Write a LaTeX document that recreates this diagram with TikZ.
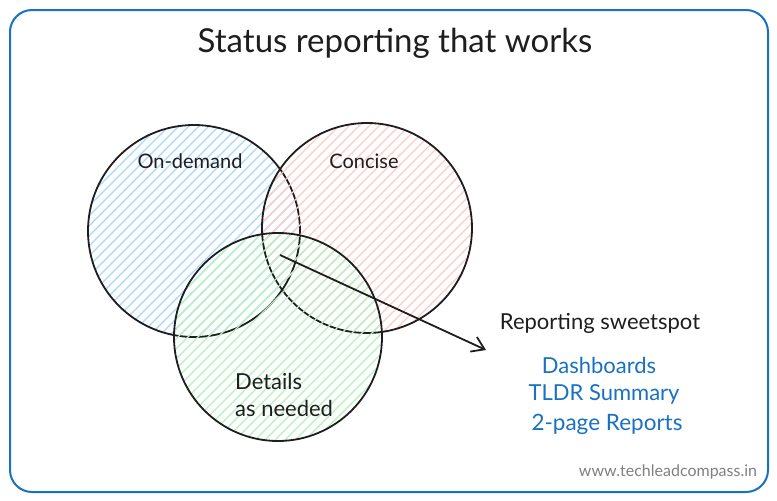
\documentclass[tikz,border=0pt]{standalone}
\usepackage{fontspec}
\setmainfont{Lato}
\usetikzlibrary{arrows.meta}
\definecolor{exblue}{HTML}{1971C2}
\definecolor{hblue}{HTML}{A5D8FF}
\definecolor{hred}{HTML}{FFC9C9}
\definecolor{hgreen}{HTML}{B2F2BB}
\definecolor{ink}{HTML}{1E1E1E}
\tikzset{
  hatch/.style={path picture={
    \foreach \d in {-160,-150,...,160}{
      \draw[#1,line width=1.2pt] ([xshift=\d pt-150pt,yshift=-150pt]path picture bounding box.center) -- ([xshift=\d pt+150pt,yshift=150pt]path picture bounding box.center);
    }}},
  venn/.style={circle,draw=ink,line width=1.8pt,inner sep=0pt,minimum size=#1},
  lbl/.style={text=ink,font=\fontsize{#1}{#1}\selectfont,inner sep=0pt},
  blu/.style={text=exblue,font=\fontsize{#1}{#1}\selectfont,inner sep=0pt},
}
\begin{document}
\begin{tikzpicture}[x=1pt,y=-1pt]
\useasboundingbox (0,0) rectangle (777,501);
\fill[white] (0,0) rectangle (777,501);
\draw[exblue,line width=2pt,rounded corners=22pt] (10,10) rectangle (768,492);
\node[text=ink,font=\fontsize{33}{36}\selectfont,inner sep=0pt] (title) at (395,43) {Status reporting that works};
\node[venn=212pt,hatch=hblue] (ondemand) at (194,231) {};
\node[venn=210pt,hatch=hred] (concise) at (367,228) {};
\node[venn=208pt,hatch=hgreen] (details) at (278,337) {};
\node[lbl=20] (l1) at (190,161) {On-demand};
\node[lbl=20] (l2) at (364,161) {Concise};
\node[lbl=22,align=left,anchor=west,font=\fontsize{22}{27}\selectfont] (l3) at (235,395) {Details\\as needed};
\coordinate (s) at (280,255);
\coordinate (e) at (486,350);
\draw[ink,line width=1.8pt,-{Straight Barb[length=12pt,width=16pt]}] (s) -- (e);
\node[lbl=22] (sweet) at (600,323) {Reporting sweetspot};
\node[blu=22] (b1) at (599,365) {Dashboards};
\node[blu=22] (b2) at (604,394) {TLDR Summary};
\node[blu=22.5] (b3) at (607,424) {2-page Reports};
\node[text=gray,font=\fontsize{16}{18}\selectfont,inner sep=0pt] (web) at (668,472) {www.techleadcompass.in};
\end{tikzpicture}
\end{document}
